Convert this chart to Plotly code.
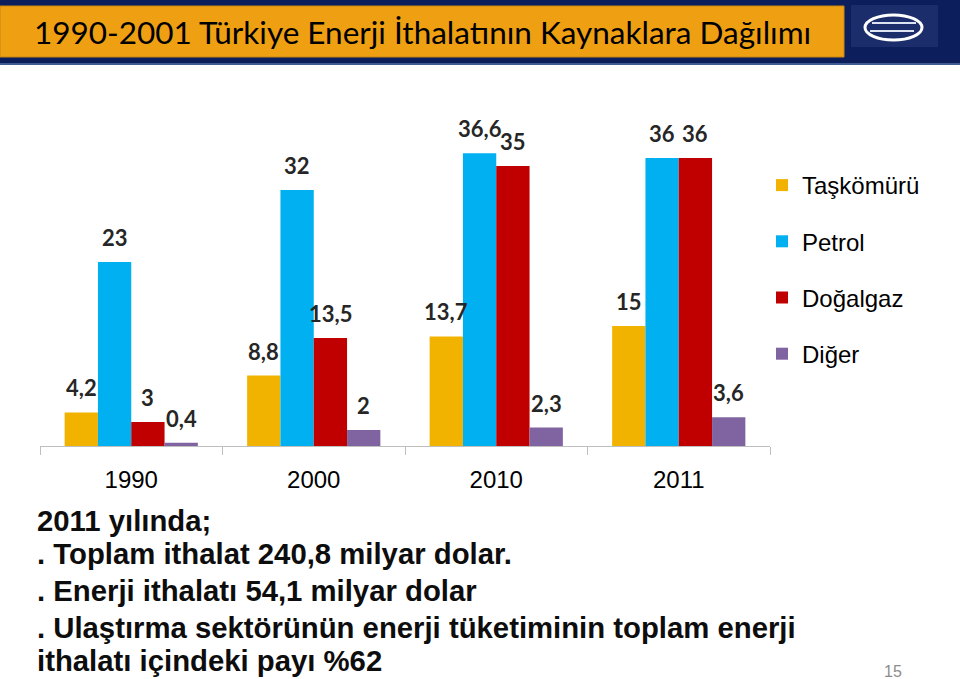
import plotly.graph_objects as go

# ---- data ----
years = ["1990", "2000", "2010", "2011"]
taskomuru = [4.2, 8.8, 13.7, 15]
petrol = [23, 32, 36.6, 36]
dogalgaz = [3, 13.5, 35, 36]
diger = [0.4, 2, 2.3, 3.6]
series_names = ["Taşkömürü", "Petrol", "Doğalgaz", "Diğer"]
series_colors = ["#F2B300", "#00B0F0", "#C00000", "#8064A2"]
title_text = "1990-2001 Türkiye Enerji İthalatının Kaynaklara Dağılımı"
body_lines = [
    "2011 yılında;",
    ". Toplam ithalat 240,8 milyar dolar.",
    ". Enerji ithalatı 54,1 milyar dolar",
    ". Ulaştırma sektörünün enerji tüketiminin toplam enerji",
    "ithalatı içindeki payı %62",
]
page_no = "15"

W, H = 960, 679
L, R, T, B = 40, 190, 100, 233
PW, PH = W - L - R, H - T - B
YMAX = 43.25
BARGAP = 0.27


def px(x):
    return (x - L) / PW


def py(y):
    return (H - B - y) / PH


def fmt(v):
    return ("%g" % v).replace(".", ",")


fig = go.Figure()
all_series = [taskomuru, petrol, dogalgaz, diger]
for name, vals, col in zip(series_names, all_series, series_colors):
    fig.add_trace(go.Bar(
        x=years, y=vals, name=name, marker=dict(color=col, line=dict(width=0)),
        legendgroup=name,
    ))

# data labels
n_s = len(all_series)
bw = PW / len(years) * (1 - BARGAP) / n_s
annotations = []
for i, vals in enumerate(all_series):
    for j, v in enumerate(vals):
        annotations.append(dict(
            x=j, y=v, xref="x", yref="y", text=fmt(v), showarrow=False,
            xanchor="center", yanchor="bottom", yshift=9,
            xshift=(i - (n_s - 1) / 2) * bw,
            font=dict(family="Lato", size=22, color="#262626", weight="bold"),
        ))

# title
annotations.append(dict(
    x=px(32), y=py(32), xref="paper", yref="paper", text=title_text,
    showarrow=False, xanchor="left", yanchor="middle",
    font=dict(family="Lato", size=31.5, color="#000000"),
))

# body text
line_y = [520, 553, 590, 627, 660]
for txt, yy in zip(body_lines, line_y):
    annotations.append(dict(
        x=px(35), y=py(yy), xref="paper", yref="paper", text="<b>%s</b>" % txt,
        showarrow=False, xanchor="left", yanchor="middle",
        font=dict(family="Liberation Sans", size=29.3, color="#0d0d0d"),
    ))

annotations.append(dict(
    x=px(893), y=py(671), xref="paper", yref="paper", text=page_no,
    showarrow=False, xanchor="center", yanchor="middle",
    font=dict(family="Liberation Sans", size=16, color="#8c8c8c"),
))

shapes = [
    dict(type="rect", xref="paper", yref="paper", x0=px(0), x1=px(W), y0=py(0), y1=py(65),
         fillcolor="#0C1F5C", line=dict(width=0), layer="below"),
    dict(type="line", xref="paper", yref="paper", x0=px(0), x1=px(W), y0=py(64), y1=py(64),
         line=dict(color="#3E5C92", width=2)),
    dict(type="rect", xref="paper", yref="paper", x0=px(0), x1=px(844), y0=py(6), y1=py(57),
         fillcolor="#EF9F12", line=dict(color="#C98610", width=1)),
    dict(type="rect", xref="paper", yref="paper", x0=px(851), x1=px(938), y0=py(5), y1=py(47),
         fillcolor="#1B2D6A", line=dict(width=0)),
    dict(type="circle", xref="paper", yref="paper", x0=px(865), x1=px(922), y0=py(15), y1=py(40),
         line=dict(color="#FFFFFF", width=3)),
    dict(type="line", xref="paper", yref="paper", x0=px(872), x1=px(916), y0=py(23), y1=py(23),
         line=dict(color="#DDE3F0", width=2)),
    dict(type="line", xref="paper", yref="paper", x0=px(870), x1=px(914), y0=py(31), y1=py(31),
         line=dict(color="#DDE3F0", width=2)),
]

fig.update_layout(
    width=W, height=H, autosize=False,
    margin=dict(l=L, r=R, t=T, b=B, pad=0),
    paper_bgcolor="white", plot_bgcolor="white",
    barmode="group", bargap=BARGAP, bargroupgap=0,
    showlegend=True,
    legend=dict(
        x=px(762), y=py(163), xanchor="left", yanchor="top",
        font=dict(family="Liberation Sans", size=24, color="#000000"),
        tracegroupgap=22, traceorder="grouped", bgcolor="rgba(0,0,0,0)",
    ),
    xaxis=dict(
        type="category", categoryorder="array", categoryarray=years,
        range=[-0.5, len(years) - 0.5],
        showline=True, linecolor="#BFBFBF", linewidth=1,
        ticks="outside", tickson="boundaries", ticklen=8, tickcolor="#BFBFBF",
        tickfont=dict(family="Liberation Sans", size=24, color="#000000"),
        ticklabelstandoff=12,
        tickangle=0, showgrid=False, zeroline=False,
    ),
    yaxis=dict(range=[0, YMAX], visible=False, showgrid=False, zeroline=False),
    annotations=annotations,
    shapes=shapes,
)

fig.write_html("out.html", config={"displayModeBar": False},
               post_script="document.body.style.margin='0';document.body.style.padding='0';")
